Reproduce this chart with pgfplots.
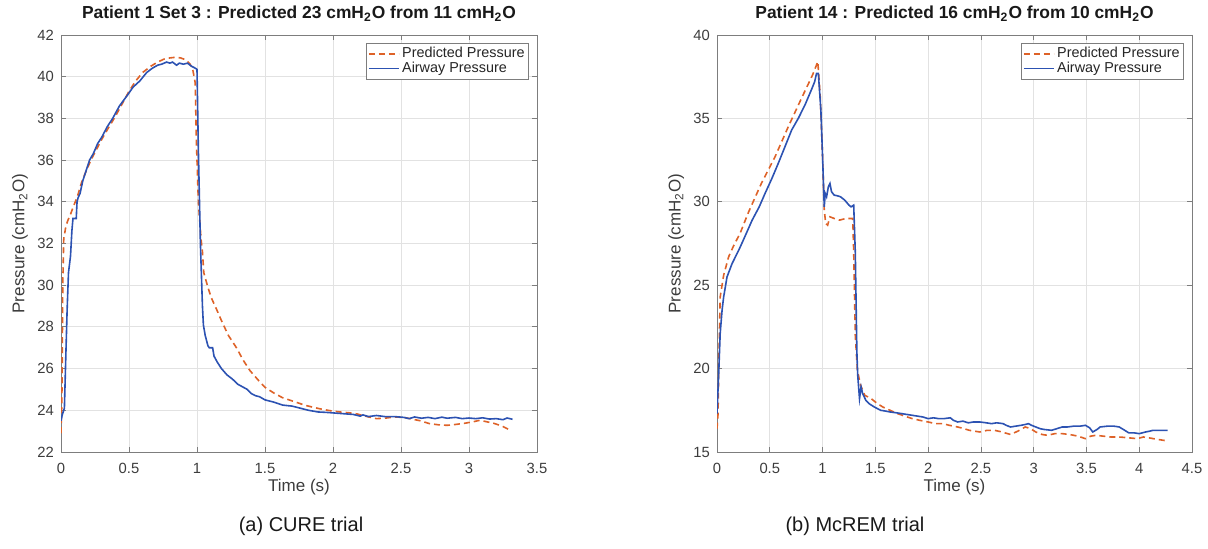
\documentclass[border=0pt]{standalone}
\usepackage{pgfplots}
\pgfplotsset{compat=1.18}
\usepackage{fontspec}
\setmainfont{Liberation Sans}
\definecolor{mlorange}{RGB}{222,98,40}
\definecolor{mlblue}{RGB}{44,82,178}
\definecolor{gridc}{RGB}{226,226,226}
\definecolor{axc}{RGB}{125,125,125}
\definecolor{txtc}{RGB}{60,60,60}

\pgfplotsset{
 every axis title shift=0pt,
 mystyle/.style={
  scale only axis, height=208.5pt,
  axis line style={axc, line width=0.4pt},
  tick style={axc, line width=0.4pt},
  major tick length=2.5pt,
  tick align=inside,
  grid=major, major grid style={gridc, line width=0.4pt},
  tick label style={font=\fontsize{7.4}{8}\selectfont, text=txtc},
  /pgf/number format/assume math mode=true,
  label style={font=\fontsize{8.5}{9}\selectfont, text=txtc},
  title style={font=\bfseries\fontsize{8.7}{9}\selectfont, text=black!90, at={(0.5,1)}, anchor=base, yshift=8pt},
  xlabel style={at={(axis description cs:0.5,-0.084)}, anchor=center},
  ylabel style={at={(axis description cs:-0.086,0.5)}, anchor=center},
  xticklabel style={yshift=-2pt},
  legend style={at={(1,1)}, anchor=north east, xshift=-4pt, yshift=-4pt,
     font=\fontsize{7.2}{8.2}\selectfont, text=black!85, draw=axc, line width=0.4pt,
     inner sep=0.8pt, row sep=-2pt, nodes={inner sep=1.2pt}, cells={anchor=west}},
  legend cell align=left,
  legend image code/.code={\draw[#1] (0pt,0pt) -- (15pt,0pt);},
 },
 predstyle/.style={mlorange, line width=0.8pt, dash pattern=on 3pt off 2pt},
 airstyle/.style={mlblue, line width=0.8pt},
}

\begin{document}
\begin{tikzpicture}
\useasboundingbox (0,0) rectangle (604pt,-274.5pt);
\begin{axis}[mystyle, width=238pt, at={(30.5pt,-226pt)}, anchor=south west,
  xmin=0, xmax=3.5, ymin=22, ymax=42,
  xtick={0,0.5,1,1.5,2,2.5,3,3.5}, ytick={22,24,26,28,30,32,34,36,38,40,42},
  title={Patient 1 Set 3 : Predicted 23 cmH\textsubscript{2}O from 11 cmH\textsubscript{2}O},
  xlabel={Time (s)}, ylabel={Pressure (cmH\textsubscript{2}O)}]
\addplot[predstyle] coordinates {
(0,22.9) (0.005,24.0) (0.008,25.4) (0.013,30.0) (0.02,32.2) (0.035,32.8) (0.05,33.1)
(0.07,33.4) (0.09,33.76) (0.12,34.24) (0.15,34.9) (0.18,35.4) (0.22,36.0) (0.26,36.5)
(0.30,37.0) (0.34,37.45) (0.40,38.1) (0.45,38.7) (0.50,39.3) (0.55,39.8) (0.60,40.2)
(0.66,40.5) (0.71,40.7) (0.76,40.85) (0.80,40.9) (0.84,40.93) (0.88,40.9) (0.92,40.8)
(0.95,40.6) (0.97,40.3) (0.987,39.7) (0.995,37.0) (1.01,34.0) (1.03,32.2) (1.04,31.6)
(1.05,30.6) (1.08,29.9) (1.105,29.4) (1.14,28.9) (1.18,28.3) (1.23,27.6) (1.29,27.0)
(1.34,26.4) (1.39,25.9) (1.45,25.45) (1.5,25.1) (1.56,24.85) (1.63,24.6) (1.70,24.45)
(1.79,24.25) (1.85,24.15) (1.92,24.05) (1.98,23.98) (2.05,23.92) (2.12,23.88) (2.18,23.82)
(2.25,23.7) (2.32,23.6) (2.38,23.62) (2.45,23.68) (2.52,23.66) (2.58,23.58) (2.64,23.5)
(2.71,23.36) (2.78,23.3) (2.84,23.28) (2.90,23.32) (2.97,23.38) (3.03,23.45) (3.08,23.52)
(3.13,23.45) (3.18,23.38) (3.24,23.25) (3.29,23.09)
};
\addlegendentry{Predicted Pressure}
\addplot[airstyle] coordinates {
(0,23.5) (0.01,23.8) (0.025,24.1) (0.035,26.5) (0.045,28.8) (0.055,30.6) (0.07,31.4)
(0.08,32.6) (0.088,33.2) (0.112,33.2) (0.118,34.0) (0.126,34.2) (0.14,34.4) (0.16,35.0)
(0.19,35.6) (0.21,36.0) (0.237,36.3) (0.27,36.8) (0.30,37.1) (0.34,37.6) (0.38,38.0)
(0.43,38.6) (0.487,39.1) (0.53,39.5) (0.58,39.8) (0.63,40.2) (0.67,40.4) (0.71,40.55)
(0.74,40.6) (0.776,40.7) (0.80,40.65) (0.82,40.7) (0.85,40.55) (0.87,40.65) (0.90,40.6)
(0.93,40.65) (0.96,40.5) (0.99,40.4) (1.0,40.35) (1.01,36.5) (1.025,32.0) (1.04,29.0)
(1.047,28.1) (1.06,27.6) (1.08,27.1) (1.09,27.0) (1.115,27.0) (1.125,26.6) (1.15,26.3)
(1.18,26.0) (1.22,25.7) (1.26,25.5) (1.30,25.25) (1.37,25.0) (1.40,24.8) (1.43,24.7)
(1.46,24.65) (1.5,24.5) (1.56,24.4) (1.63,24.25) (1.70,24.2) (1.76,24.1) (1.82,24.0)
(1.89,23.92) (1.95,23.9) (2.05,23.85) (2.15,23.8) (2.2,23.72) (2.22,23.78) (2.26,23.7)
(2.32,23.75) (2.38,23.7) (2.45,23.7) (2.52,23.66) (2.56,23.6) (2.6,23.68) (2.65,23.62)
(2.7,23.66) (2.75,23.6) (2.8,23.67) (2.84,23.62) (2.9,23.66) (2.95,23.6) (3.0,23.63)
(3.05,23.6) (3.1,23.64) (3.15,23.58) (3.2,23.6) (3.25,23.55) (3.28,23.63) (3.32,23.57)
};
\addlegendentry{Airway Pressure}
\end{axis}

\begin{axis}[mystyle, width=237.5pt, at={(358.5pt,-226pt)}, anchor=south west,
  xmin=0, xmax=4.5, ymin=15, ymax=40,
  xtick={0,0.5,1,1.5,2,2.5,3,3.5,4,4.5}, ytick={15,20,25,30,35,40},
  title={Patient 14 : Predicted 16 cmH\textsubscript{2}O from 10 cmH\textsubscript{2}O},
  xlabel={Time (s)}, ylabel={Pressure (cmH\textsubscript{2}O)}]
\addplot[predstyle] coordinates {
(0,16.4) (0.01,17.3) (0.016,20.0) (0.03,24.3) (0.063,25.6) (0.11,26.7) (0.16,27.4)
(0.218,28.1) (0.30,29.4) (0.42,31.1) (0.55,32.7) (0.675,34.5) (0.80,36.2) (0.905,37.6)
(0.955,38.4)
(0.978,36.3) (1.0,32.7) (1.016,29.5) (1.03,28.7) (1.048,28.6) (1.07,29.1) (1.11,29.0)
(1.16,28.9) (1.22,29.0) (1.286,29.0) (1.295,27.0) (1.31,22.0) (1.33,19.9) (1.36,19.0)
(1.4,18.4) (1.46,18.2) (1.52,17.9) (1.57,17.7) (1.64,17.5) (1.71,17.3) (1.78,17.15)
(1.85,17.0) (1.92,16.9) (2.0,16.8) (2.07,16.7) (2.14,16.7) (2.2,16.6) (2.28,16.5)
(2.34,16.4) (2.39,16.3) (2.44,16.25) (2.49,16.2) (2.56,16.3) (2.63,16.3) (2.7,16.2)
(2.78,16.05) (2.85,16.25) (2.92,16.5) (2.97,16.4) (3.02,16.2) (3.08,16.05) (3.13,16.0)
(3.2,16.1) (3.27,16.1) (3.34,16.05) (3.42,15.95) (3.49,15.8) (3.54,15.95) (3.59,16.0)
(3.66,15.95) (3.73,15.9) (3.81,15.9) (3.9,15.85) (3.98,15.8) (4.04,15.9) (4.09,15.85)
(4.18,15.75) (4.27,15.66)
};
\addlegendentry{Predicted Pressure}
\addplot[airstyle] coordinates {
(0,17.3) (0.016,19.7) (0.03,22.1) (0.048,23.5) (0.063,24.3) (0.095,25.5) (0.143,26.3)
(0.206,27.1) (0.249,27.7) (0.333,28.9) (0.40,29.7) (0.455,30.5) (0.52,31.4) (0.58,32.3)
(0.65,33.4) (0.707,34.3) (0.77,35.0) (0.833,35.8) (0.90,36.8) (0.925,37.2) (0.943,37.7)
(0.96,37.7) (0.984,35.5) (1.0,32.7) (1.016,29.7) (1.025,30.5) (1.038,30.3) (1.055,30.9)
(1.07,31.1) (1.085,30.6) (1.11,30.4) (1.14,30.36) (1.17,30.3) (1.21,30.1) (1.25,29.8)
(1.27,29.7) (1.295,29.8) (1.31,27.0) (1.325,21.0) (1.333,19.6) (1.35,18.2) (1.365,18.9)
(1.38,18.5) (1.41,18.1) (1.44,17.9) (1.49,17.7) (1.55,17.5) (1.6,17.45) (1.64,17.4)
(1.7,17.35) (1.75,17.3) (1.8,17.25) (1.85,17.2) (1.9,17.15) (1.95,17.1) (2.0,17.0)
(2.05,17.05) (2.1,17.0) (2.15,17.0) (2.21,17.05) (2.24,16.9) (2.28,16.8) (2.33,16.85)
(2.38,16.75) (2.43,16.8) (2.49,16.8) (2.55,16.75) (2.6,16.7) (2.65,16.75) (2.71,16.7)
(2.74,16.6) (2.78,16.5) (2.83,16.55) (2.88,16.6) (2.92,16.65) (2.95,16.7) (2.98,16.6)
(3.02,16.5) (3.06,16.4) (3.1,16.35) (3.17,16.3) (3.22,16.4) (3.27,16.5) (3.32,16.5)
(3.38,16.55) (3.44,16.55) (3.49,16.6) (3.53,16.45) (3.56,16.2) (3.6,16.35) (3.63,16.5)
(3.7,16.55) (3.76,16.55) (3.81,16.5) (3.85,16.35) (3.9,16.15) (3.95,16.15) (4.0,16.1)
(4.06,16.2) (4.1,16.25) (4.13,16.3) (4.2,16.3) (4.27,16.3)
};
\addlegendentry{Airway Pressure}
\end{axis}

\node[font=\fontsize{10}{12}\selectfont, text=black!90] at (150.5pt,-263pt) {(a) CURE trial};
\node[font=\fontsize{10}{12}\selectfont, text=black!90] at (427.5pt,-263pt) {(b) McREM trial};
\end{tikzpicture}
\end{document}
